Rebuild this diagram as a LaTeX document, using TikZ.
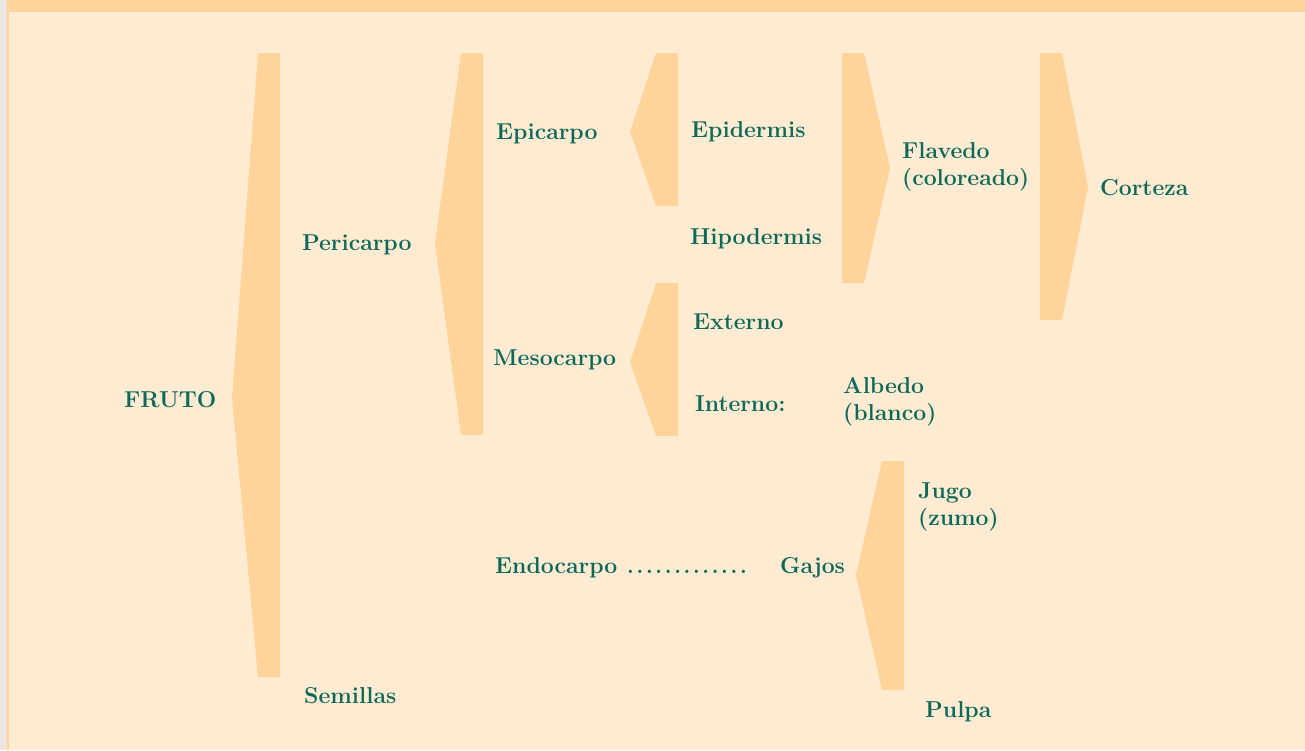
\documentclass[tikz,border=0pt]{standalone}
\usepackage{xcolor}
\definecolor{bgbeige}{RGB}{255,235,210}
\definecolor{braceor}{RGB}{254,212,154}
\definecolor{txtgreen}{RGB}{12,104,88}
\definecolor{sidegrey}{RGB}{236,229,224}
\newcommand{\ldotbox}{\makebox[9.4pt][c]{.}}
\begin{document}
\begin{tikzpicture}[x=1pt,y=-1pt,
  lbl/.style={anchor=west,inner sep=0pt,yshift=-2pt,text=txtgreen,font=\fontsize{23}{27}\selectfont\bfseries,align=left},
  bracefill/.style={fill=braceor,draw=none}]
\useasboundingbox (0,0) rectangle (1305,750);
\fill[bgbeige] (0,0) rectangle (1305,750);
\fill[sidegrey] (0,0) rectangle (7,750);
\fill[braceor] (7,0) rectangle (8.5,750);
\fill[braceor] (7,0) rectangle (1305,12);
% braces
\fill[bracefill] (258,53) -- (280,53) -- (280,677) -- (258,677) -- (232,398) -- cycle;
\fill[bracefill] (461,53) -- (483,53) -- (483,435) -- (461,435) -- (435,243) -- cycle;
\fill[bracefill] (656,53) -- (678,53) -- (678,206) -- (656,206) -- (630,132) -- cycle;
\fill[bracefill] (656,283) -- (678,283) -- (678,436) -- (656,436) -- (630,362) -- cycle;
\fill[bracefill] (842,53) -- (864,53) -- (890,168) -- (864,283) -- (842,283) -- cycle;
\fill[bracefill] (1040,53) -- (1062,53) -- (1088,187) -- (1062,320) -- (1040,320) -- cycle;
\fill[bracefill] (882,461) -- (904,461) -- (904,690) -- (882,690) -- (856,575) -- cycle;
% labels
\node[lbl] (fruto) at (124,398) {FRUTO};
\node[lbl] (peri) at (302,243) {Pericarpo};
\node[lbl] (semi) at (304,694) {Semillas};
\node[lbl] (epic) at (496,132) {Epicarpo};
\node[lbl] (meso) at (493,358) {Mesocarpo};
\node[lbl] (endo) at (495,566) {Endocarpo \ldotbox\ldotbox\ldotbox\ldotbox\ldotbox\ldotbox\ldotbox\ldotbox\ldotbox\ldotbox\ldotbox\ldotbox\ldotbox};
\node[lbl] (epid) at (691,130) {Epidermis};
\node[lbl] (hipo) at (690,237) {Hipodermis};
\node[lbl] (exte) at (693,320) {Externo};
\node[lbl] (inte) at (695,402) {Interno:};
\node[lbl] (flav) at (902,165) {Flavedo\\(coloreado)};
\node[lbl] (albe) at (843,400) {Albedo\\(blanco)};
\node[lbl] (cort) at (1100,186) {Corteza};
\node[lbl] (gajo) at (780,566) {Gajos};
\node[lbl] (jugo) at (918,505) {Jugo\\(zumo)};
\node[lbl] (pulp) at (925,710) {Pulpa};
\end{tikzpicture}
\end{document}
